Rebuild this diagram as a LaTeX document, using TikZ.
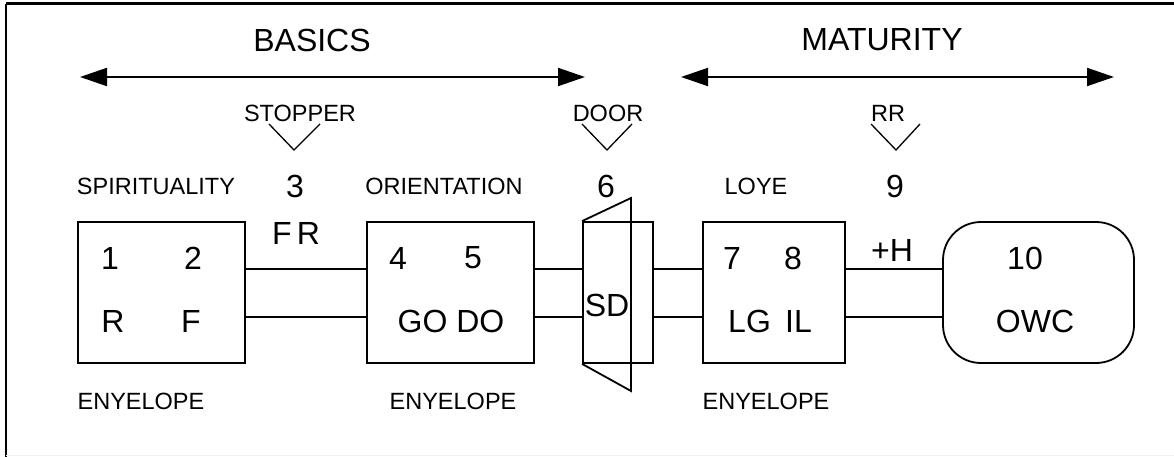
\documentclass[tikz,border=0pt]{standalone}
\usepackage{fontspec}
\setmainfont{Liberation Sans}
\usetikzlibrary{arrows.meta}
\tikzset{
  small/.style={font=\fontsize{23.5}{27}\selectfont, inner sep=0pt, anchor=center},
  big/.style={font=\fontsize{32}{36}\selectfont, inner sep=0pt, anchor=center},
  envbox/.style={draw, line width=1.8pt, minimum height=141pt, inner sep=0pt},
  link/.style={line width=1.8pt},
  span/.style={line width=2pt, {Triangle[length=27pt,width=18pt]}-{Triangle[length=27pt,width=18pt]}},
  chev/.style={line width=1.3pt}
}
\begin{document}
\begin{tikzpicture}[x=1pt,y=-1pt]
\useasboundingbox (0,0) rectangle (1174,457);
% frame
\draw[line width=3pt] (6,4) -- (1174,4);
\draw[line width=2.5pt] (6,4) -- (6,457);
\draw[line width=1pt, black!6] (6,455) -- (1174,455);

% titles and spans
\node[big] (basics) at (312,40) {BASICS};
\node[big] (maturity) at (882,40) {MATURITY};
\coordinate (bl) at (80,77);
\coordinate (br) at (585,77);
\coordinate (ml) at (681,77);
\coordinate (mr) at (1114,77);
\draw[span] (bl) -- (br);
\draw[span] (ml) -- (mr);

% upper labels
\node[small] (stopper) at (300,113) {STOPPER};
\node[small] (door) at (608,113) {DOOR};
\node[small] (rr) at (888,113) {RR};
\draw[chev] (269,124) -- (294,150) -- (320,124);
\draw[chev] (582,124) -- (607,150) -- (632,124);
\draw[chev] (871,124) -- (896,150) -- (920,124);

\node[small] (spirit) at (156,186) {SPIRITUALITY};
\node[big] (three) at (295,186) {3};
\node[small] (orient) at (444,186) {ORIENTATION};
\node[big] (six) at (606,186) {6};
\node[small] (love) at (756,186) {LOYE};
\node[big] (nine) at (895,186) {9};

% boxes
\node[envbox, minimum width=167pt] (b1) at (161.5,292.5) {};
\node[envbox, minimum width=167pt] (b2) at (450.5,292.5) {};
\node[envbox, minimum width=70pt] (bd) at (618,292.5) {};
\node[envbox, minimum width=142pt] (b3) at (774,292.5) {};
\node[envbox, minimum width=191pt, rounded corners=38pt] (b4) at (1038.5,292.5) {};

% door leaf
\draw[link] (bd.north west) -- (631,198) -- (631,391) -- (bd.south west);

% links
\draw[link] ([yshift=23.5pt]b1.east) -- ([yshift=23.5pt]b2.west);
\draw[link] ([yshift=-24.5pt]b1.east) -- ([yshift=-24.5pt]b2.west);
\draw[link] ([yshift=23.5pt]b2.east) -- ([yshift=23.5pt]bd.west);
\draw[link] ([yshift=-24.5pt]b2.east) -- ([yshift=-24.5pt]bd.west);
\draw[link] ([yshift=23.5pt]bd.east) -- ([yshift=23.5pt]b3.west);
\draw[link] ([yshift=-24.5pt]bd.east) -- ([yshift=-24.5pt]b3.west);
\draw[link] ([yshift=23.5pt]b3.east) -- ([yshift=23.5pt]b4.west);
\draw[link] ([yshift=-24.5pt]b3.east) -- ([yshift=-24.5pt]b4.west);

% link labels
\node[big] (fr) at (296,233) {F\,R};
\node[big] (h) at (892,250) {+H};

% box contents
\node[big] (n1) at (110,258) {1};
\node[big] (n2) at (193,258) {2};
\node[big] (r) at (113,321) {R};
\node[big] (f) at (191,321) {F};
\node[big] (n4) at (398,258) {4};
\node[big] (n5) at (473,258) {5};
\node[big] (godo) at (451,321) {GO DO};
\node[big] (sd) at (607,305) {SD};
\node[big] (n7) at (732,258) {7};
\node[big] (n8) at (793,258) {8};
\node[big] (lgil) at (770,321) {LG\, IL};
\node[big] (n10) at (1025,258) {10};
\node[big] (owc) at (1035,321) {OWC};

% envelope labels
\node[small] (e1) at (141,401) {ENYELOPE};
\node[small] (e2) at (453,401) {ENYELOPE};
\node[small] (e3) at (766,401) {ENYELOPE};
\end{tikzpicture}
\end{document}
